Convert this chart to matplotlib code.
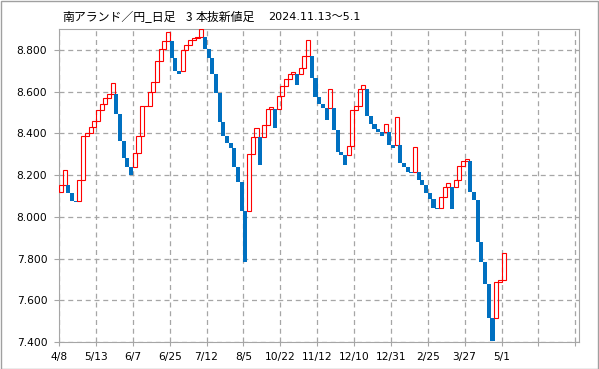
import matplotlib
matplotlib.use("Agg")
import matplotlib.pyplot as plt
from matplotlib.patches import Rectangle

# three line break boxes, one per column; open of the first box, then the closes
first_open = 8.118
closes = [
    8.153, 8.224, 8.113, 8.078, 8.070, 8.177, 8.385, 8.401, 8.428, 8.457,
    8.513, 8.542, 8.570, 8.590, 8.642, 8.493, 8.361, 8.281, 8.241, 8.198,
    8.306, 8.385, 8.529, 8.533, 8.600, 8.645, 8.745, 8.806, 8.843, 8.886,
    8.762, 8.697, 8.685, 8.800, 8.822, 8.845, 8.858, 8.861, 8.900, 8.806,
    8.762, 8.685, 8.594, 8.452, 8.385, 8.353, 8.332, 8.241, 8.169, 8.030,
    7.785, 8.301, 8.382, 8.426, 8.246, 8.441, 8.517, 8.525, 8.426, 8.577,
    8.625, 8.662, 8.685, 8.692, 8.630, 8.714, 8.773, 8.845, 8.666, 8.574,
    8.542, 8.522, 8.465, 8.613, 8.417, 8.310, 8.297, 8.246, 8.337, 8.510,
    8.533, 8.613, 8.633, 8.481, 8.446, 8.421, 8.406, 8.385, 8.445, 8.342,
    8.330, 8.478, 8.260, 8.241, 8.216, 8.212, 8.335, 8.174, 8.153, 8.116,
    8.085, 8.041, 8.037, 8.097, 8.142, 8.161, 8.037, 8.177, 8.245, 8.269,
    8.277, 8.118, 8.081, 7.881, 7.785, 7.678, 7.516, 7.404, 7.686, 7.697,
    7.828,
]
date_labels = ["4/8", "5/13", "6/7", "6/25", "7/12", "8/5", "10/22", "11/12",
               "12/10", "12/31", "2/25", "3/27", "5/1", "", ""]
y_ticks = [7.4, 7.6, 7.8, 8.0, 8.2, 8.4, 8.6, 8.8]

RED = "#ff0000"
BLUE = "#0070c0"
GRID = "#a6a6a6"


def build_boxes(first_open, closes):
    # a box continues from the last close, a reversal starts at the last open
    boxes = []
    o = first_open
    up = closes[0] > first_open
    boxes.append((o, closes[0], up))
    for i in range(1, len(closes)):
        po, pc, pup = boxes[-1]
        c = closes[i]
        if pup:
            if c > pc:
                boxes.append((pc, c, True))
            else:
                boxes.append((po, c, False))
        else:
            if c < pc:
                boxes.append((pc, c, False))
            else:
                boxes.append((po, c, True))
    return boxes


fig = plt.figure(figsize=(5.99, 3.69), dpi=100)
ax = fig.add_axes([59 / 599, 1 - 342 / 369, 520 / 599, 313 / 369])

w = 1.1
for i, (o, c, up) in enumerate(build_boxes(first_open, closes)):
    lo, hi = min(o, c), max(o, c)
    if up:
        ax.add_patch(Rectangle((i, lo), w, hi - lo, facecolor="none",
                               edgecolor=RED, linewidth=0.8, zorder=3))
    else:
        ax.add_patch(Rectangle((i, lo), w, hi - lo, facecolor=BLUE,
                               edgecolor="none", zorder=3))

ax.set_xlim(0, 141)
ax.set_ylim(7.4, 8.9)
ax.set_xticks(range(0, 141, 10))
ax.set_xticklabels(date_labels, fontsize=7.7)
ax.set_yticks(y_ticks)
ax.set_yticklabels([f"{v:.3f}" for v in y_ticks], fontsize=7.7)
ax.grid(True, color=GRID, linestyle=(0, (4, 3)), linewidth=0.9)
ax.tick_params(axis="y", length=3.6, color=GRID, pad=4.8)
ax.tick_params(axis="x", length=3, color=GRID, pad=4)
for s in ax.spines.values():
    s.set_color(GRID)

ty = 1 - 17.5 / 369
fig.text(62 / 599, ty, "南アランド／円_日足", fontsize=8.6,
         family="Noto Sans CJK JP", va="center")
fig.text(186 / 599, ty, "3", fontsize=8.6, family="Noto Sans CJK JP", va="center")
fig.text(196 / 599, ty, "本抜新値足", fontsize=8.6,
         family="Noto Sans CJK JP", va="center")
fig.text(268 / 599, ty, "2024.11.13～5.1", fontsize=8,
         family=["DejaVu Sans", "Noto Sans CJK JP"], va="center")

# thin grey frame round the whole picture
fig.patches.append(Rectangle((0.001, 0.001), 0.997, 0.996, transform=fig.transFigure,
                             facecolor="none", edgecolor="#a0a0a0", linewidth=1))

fig.savefig("out.png", dpi=100)
